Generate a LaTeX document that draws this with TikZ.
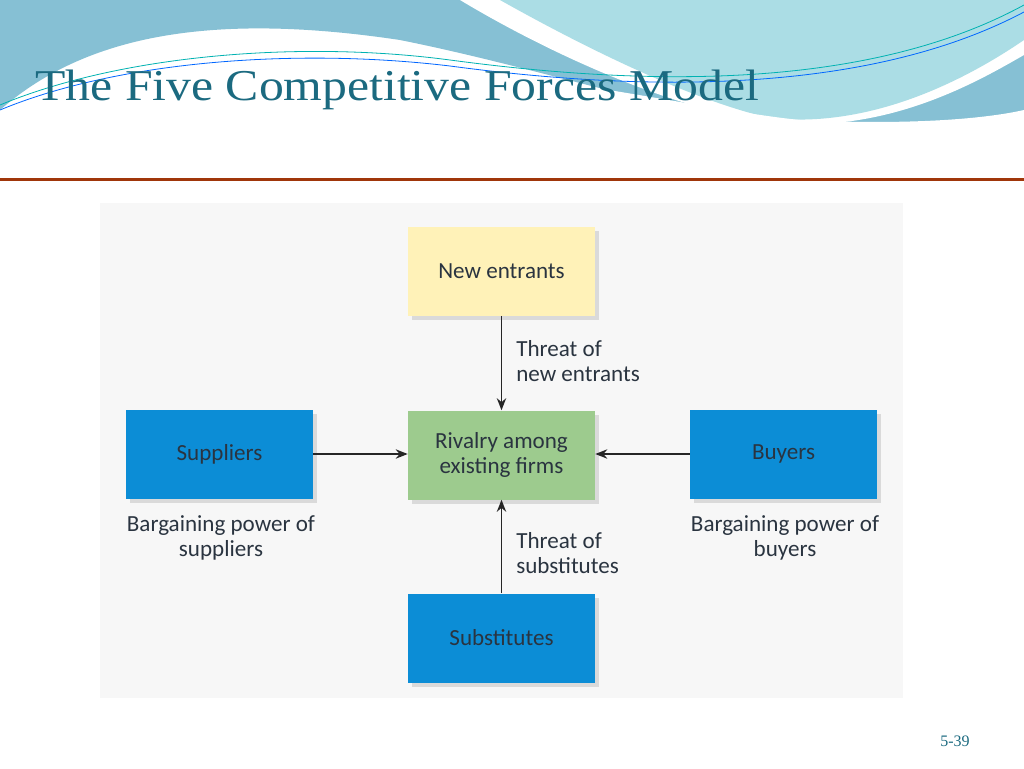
\documentclass[tikz,border=0pt]{standalone}
\usepackage{fontspec}
\usetikzlibrary{shadows,arrows.meta}
\setmainfont{Liberation Serif}
\newfontfamily\diag{Carlito}
\definecolor{wave1}{HTML}{86C0D4}
\definecolor{wave2}{HTML}{ABDDE5}
\definecolor{ttl}{HTML}{1B6A80}
\definecolor{rline}{HTML}{A0360A}
\definecolor{ybox}{HTML}{FFF2B8}
\definecolor{gbox}{HTML}{9DCB8E}
\definecolor{bbox}{HTML}{0C8DD6}
\definecolor{txt}{HTML}{2A3440}
\begin{document}
\begin{tikzpicture}[x=0.75pt,y=-0.75pt,
  box/.style={draw=none,minimum width=140.25pt,minimum height=66.75pt,inner sep=0pt,align=center,
    font=\diag\fontsize{17.3}{19}\selectfont,text=txt,
    drop shadow={shadow xshift=3pt,shadow yshift=-3pt,fill=black!25}},
  lbl/.style={font=\diag\fontsize{17.3}{19}\selectfont,text=txt,inner sep=0pt},
  arr/.style={-{Stealth[length=9pt,width=7pt]},line width=1.4pt,black!85}]
\useasboundingbox (0,0) rectangle (1024,768);
\fill[white] (0,0) rectangle (1024,768);
% waves
\fill[wave1] (0,0) -- (0,110) .. controls (80,40) and (200,10) .. (400,40) .. controls (600,80) and (800,160) .. (1000,140) -- (1024,130) -- (1024,0) -- cycle;
\fill[white] (460,0) .. controls (560,60) and (680,110) .. (760,120) .. controls (880,140) and (980,80) .. (1024,55) -- (1024,0) -- cycle;
\fill[wave2] (500,0) .. controls (580,45) and (690,100) .. (770,118) .. controls (880,130) and (980,70) .. (1024,40) -- (1024,0) -- cycle;
\fill[white] (0,115) .. controls (90,55) and (200,60) .. (320,60) .. controls (500,62) and (700,110) .. (800,120) .. controls (900,125) and (980,120) .. (1024,110) -- (1024,180) -- (0,180) -- cycle;
\draw[teal!60!cyan,line width=0.6pt] (0,105) .. controls (120,55) and (300,40) .. (450,60) .. controls (600,80) and (850,100) .. (1024,5);
\draw[blue!60!cyan,line width=0.6pt] (0,110) .. controls (120,60) and (300,48) .. (450,66) .. controls (600,86) and (850,104) .. (1024,12);
\node[anchor=base west,font=\fontsize{33}{36}\selectfont,text=ttl,inner sep=0pt,xscale=1.13] (title) at (35,100) {The Five Competitive Forces Model};
\fill[rline] (0,177.5) rectangle (1024,180.5);
% panel
\fill[black!3] (100,203) rectangle (903,698);
\node[box,fill=ybox] (ne) at (501.5,271) {New entrants};
\node[box,fill=gbox] (rv) at (501.5,455) {Rivalry among\\existing firms};
\node[box,fill=bbox] (su) at (219.5,454) {Suppliers};
\node[box,fill=bbox] (bu) at (783.5,454) {Buyers};
\node[box,fill=bbox] (sb) at (501.5,638) {Substitutes};
\draw[arr] (ne.south) -- (rv.north);
\draw[arr] (su.east) -- (su.east -| rv.west);
\draw[arr] (bu.west) -- (bu.west -| rv.east);
\draw[arr] (sb.north) -- (rv.south);
\node[lbl,anchor=west,align=left] (t1) at (516,361) {Threat of\\new entrants};
\node[lbl,anchor=west,align=left] (t2) at (516,553) {Threat of\\substitutes};
\node[lbl,align=center] (t3) at (221,538) {Bargaining power of\\suppliers};
\node[lbl,align=center] (t4) at (785,538) {Bargaining power of\\buyers};
\node[font=\fontsize{12}{13}\selectfont,text=ttl,inner sep=0pt] (pg) at (955,741) {5-39};
\end{tikzpicture}
\end{document}
